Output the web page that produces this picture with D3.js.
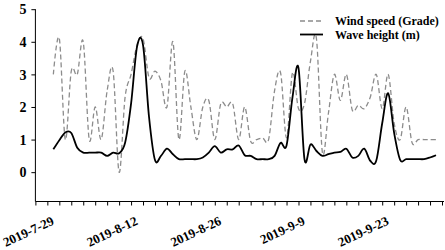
<!DOCTYPE html>
<html>
<head>
<meta charset="utf-8">
<script src="https://cdn.jsdelivr.net/npm/d3@7"></script>
<style>
  body { margin: 0; background: #fff; }
  svg text { font-family: "Liberation Serif", "Times New Roman", serif !important; font-weight: bold; fill: #000; }
</style>
</head>
<body>
<svg id="chart" width="445" height="250"></svg>
<script>
// daily records, first one on 2019-07-28
const firstDay = "2019-07-28";
const windSpeed = [3.0, 4.1, 1.0, 3.1, 3.0, 4.0, 1.0, 2.0, 1.0, 2.5,
  3.1, 0.0, 2.3, 3.0, 3.9, 4.1, 2.9, 3.1, 2.8, 2.0,
  4.0, 1.0, 3.1, 2.0, 1.0, 2.0, 2.2, 1.0, 2.1, 2.0,
  2.1, 1.0, 2.0, 0.95, 1.0, 1.05, 1.0, 2.5, 3.05, 1.05,
  3.05, 1.95, 2.1, 3.4, 4.1, 0.6, 1.8, 3.0, 2.2, 3.0,
  1.9, 2.05, 1.95, 2.3, 3.0, 1.95, 3.0, 1.5, 1.0, 2.0,
  0.9, 1.0, 1.0, 1.0, 1.0];
const waveHeight = [0.7, 0.98, 1.22, 1.2, 0.75, 0.6, 0.6, 0.6, 0.6, 0.5,
  0.6, 0.58, 0.9, 2.1, 3.85, 3.9, 1.7, 0.37, 0.5, 0.72,
  0.55, 0.4, 0.4, 0.4, 0.4, 0.45, 0.6, 0.8, 0.6, 0.7,
  0.7, 0.82, 0.52, 0.5, 0.4, 0.4, 0.4, 0.5, 0.9, 0.82,
  2.3, 3.2, 0.4, 0.85, 0.65, 0.5, 0.55, 0.6, 0.62, 0.72,
  0.45, 0.5, 0.72, 0.35, 0.35, 1.5, 2.42, 1.2, 0.38, 0.4,
  0.4, 0.4, 0.4, 0.45, 0.52];
const seriesNames = ["Wind speed (Grade)", "Wave height (m)"];
const yTicks = [0, 1, 2, 3, 4, 5];
const xLabels = ["2019-7-29", "2019-8-12", "2019-8-26", "2019-9-9", "2019-9-23"];
const xStart = "2019-07-25", xEnd = "2019-10-01";

const parse = d3.timeParse("%Y-%m-%d");
const labelFmt = d => `${d.getFullYear()}-${d.getMonth() + 1}-${d.getDate()}`;
const day0 = parse(firstDay);
const dates = windSpeed.map((_, i) => d3.timeDay.offset(day0, i));

const svg = d3.select("#chart");

let x = d3.scaleTime()
  .domain([parse(xStart), parse(xEnd)])
  .range([35.4, 442]);
let y = d3.scaleLinear()
  .domain([-0.9, 5])
  .range([201.5, 9.2]);

// y axis
let yAxis = d3.axisLeft(y).tickValues(yTicks).tickSize(4).tickFormat(d3.format("d"));
let gy = svg.append("g")
  .attr("transform", "translate(35.4,0)")
  .call(yAxis);
gy.select(".domain").attr("d", `M0,${y(5)}V${y(-0.9)}`).attr("stroke", "#000");
gy.selectAll(".tick line").attr("stroke", "#000");
gy.selectAll(".tick text").style("font-size", "14px").attr("x", -9).attr("dy", "0.34em");

// x axis, a tick every two days
let xTickVals = d3.timeDay.range(parse(xStart), d3.timeDay.offset(parse(xEnd), 1), 2);
let xAxis = d3.axisBottom(x).tickValues(xTickVals).tickSize(4).tickFormat("");
let gx = svg.append("g")
  .attr("transform", `translate(0,${y(-0.9)})`)
  .call(xAxis);
gx.select(".domain").attr("d", `M35.4,0H444`).attr("stroke", "#000");
gx.selectAll(".tick line").attr("stroke", "#000");

svg.append("g").selectAll("text")
  .data(xTickVals.filter(d => xLabels.includes(labelFmt(d))))
  .enter().append("text")
  .attr("transform", d => `translate(${x(d) - 4.5},${224}) rotate(-25)`)
  .attr("text-anchor", "end")
  .style("font-size", "13px")
  .text(d => labelFmt(d));

// lines
let line = (vals) => d3.line()
  .x((d, i) => x(dates[i]))
  .y(d => y(d))
  .curve(d3.curveCardinal.tension(0))(vals);

svg.append("path")
  .attr("d", line(windSpeed))
  .attr("fill", "none")
  .attr("stroke", "#8c8c8c")
  .attr("stroke-width", 1.3)
  .attr("stroke-dasharray", "5,3");

svg.append("path")
  .attr("d", line(waveHeight))
  .attr("fill", "none")
  .attr("stroke", "#000")
  .attr("stroke-width", 1.8);

// legend
let legend = svg.append("g");
legend.append("line")
  .attr("x1", 300).attr("x2", 322).attr("y1", 21).attr("y2", 21)
  .attr("stroke", "#8c8c8c").attr("stroke-width", 1.3).attr("stroke-dasharray", "5,3");
legend.append("line")
  .attr("x1", 300).attr("x2", 323).attr("y1", 34.5).attr("y2", 34.5)
  .attr("stroke", "#000").attr("stroke-width", 1.8);
legend.selectAll("text")
  .data(seriesNames)
  .enter().append("text")
  .attr("x", 335)
  .attr("y", (d, i) => 25 + i * 13.5)
  .style("font-size", "12px")
  .text(d => d);
</script>
</body>
</html>
